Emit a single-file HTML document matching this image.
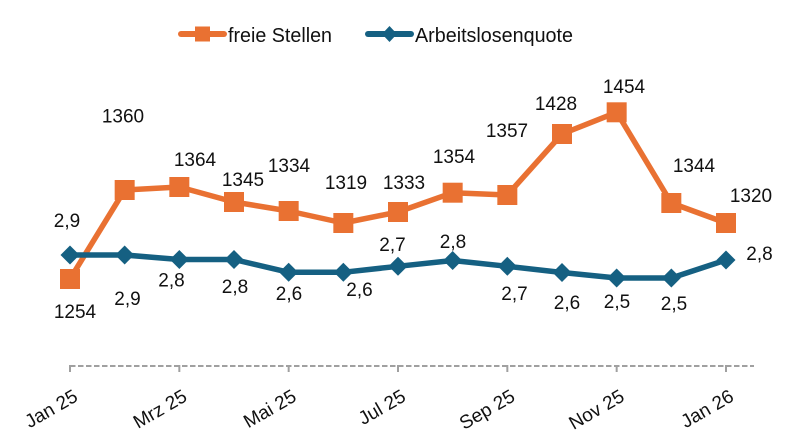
<!DOCTYPE html>
<html>
<head>
<meta charset="utf-8">
<style>
  html, body { margin:0; padding:0; background:#ffffff; }
  svg { display:block; }
  text { font-family: "Liberation Sans", Arial, sans-serif; fill:#111111; }
</style>
</head>
<body>
<svg width="800" height="446" viewBox="0 0 800 446" xmlns="http://www.w3.org/2000/svg">
  <rect width="800" height="446" fill="#ffffff"/>

  <!-- Legend -->
  <line x1="181" y1="34" x2="224" y2="34" stroke="#E97132" stroke-width="6" stroke-linecap="round"/>
  <rect x="195" y="26.5" width="15" height="15" fill="#E97132"/>
  <text x="228" y="42" font-size="20" textLength="104" lengthAdjust="spacingAndGlyphs">freie Stellen</text>

  <line x1="368" y1="34" x2="411" y2="34" stroke="#156082" stroke-width="6" stroke-linecap="round"/>
  <polygon points="389.5,26 397,34 389.5,42 382,34" fill="#156082"/>
  <text x="415" y="42" font-size="20" textLength="158" lengthAdjust="spacingAndGlyphs">Arbeitslosenquote</text>

  <!-- Category axis (dashed) -->
  <line x1="70" y1="366" x2="754" y2="366" stroke="#a0a0a0" stroke-width="2" stroke-dasharray="5.5,2.5"/>
  <g stroke="#a0a0a0" stroke-width="2">
    <line x1="70" y1="365" x2="70" y2="372"/>
    <line x1="179.33" y1="365" x2="179.33" y2="372"/>
    <line x1="288.67" y1="365" x2="288.67" y2="372"/>
    <line x1="398" y1="365" x2="398" y2="372"/>
    <line x1="507.33" y1="365" x2="507.33" y2="372"/>
    <line x1="616.67" y1="365" x2="616.67" y2="372"/>
    <line x1="726" y1="365" x2="726" y2="372"/>
  </g>

  <!-- Axis labels -->
  <g font-size="19" text-anchor="end">
    <text transform="translate(79,400) rotate(-30)">Jan 25</text>
    <text transform="translate(188.3,400) rotate(-30)">Mrz 25</text>
    <text transform="translate(297.7,400) rotate(-30)">Mai 25</text>
    <text transform="translate(407,400) rotate(-30)">Jul 25</text>
    <text transform="translate(516.3,400) rotate(-30)">Sep 25</text>
    <text transform="translate(625.7,400) rotate(-30)">Nov 25</text>
    <text transform="translate(735,400) rotate(-30)">Jan 26</text>
  </g>

  <!-- freie Stellen series -->
  <polyline fill="none" stroke="#E97132" stroke-width="5.5" stroke-linejoin="round"
    points="70,279 124.67,190 179.33,187 234,202 288.67,211 343.33,223 398,212 452.67,192.7 507.33,195 562,134 616.67,112.3 671.33,203 726,223"/>
  <g fill="#E97132">
    <rect x="60" y="269" width="20" height="20"/>
    <rect x="114.67" y="180" width="20" height="20"/>
    <rect x="169.33" y="177" width="20" height="20"/>
    <rect x="224" y="192" width="20" height="20"/>
    <rect x="278.67" y="201" width="20" height="20"/>
    <rect x="333.33" y="213" width="20" height="20"/>
    <rect x="388" y="202" width="20" height="20"/>
    <rect x="442.67" y="182.7" width="20" height="20"/>
    <rect x="497.33" y="185" width="20" height="20"/>
    <rect x="552" y="124" width="20" height="20"/>
    <rect x="606.67" y="102.3" width="20" height="20"/>
    <rect x="661.33" y="193" width="20" height="20"/>
    <rect x="716" y="213" width="20" height="20"/>
  </g>

  <!-- Arbeitslosenquote series -->
  <polyline fill="none" stroke="#156082" stroke-width="5.5" stroke-linejoin="round"
    points="70,255 124.67,255 179.33,259.5 234,259.5 288.67,272.3 343.33,272.3 398,266.3 452.67,260.5 507.33,266.3 562,272.5 616.67,278 671.33,278 726,260"/>
  <g fill="#156082">
    <polygon points="70,245.5 79.5,255 70,264.5 60.5,255"/>
    <polygon points="124.67,245.5 134.17,255 124.67,264.5 115.17,255"/>
    <polygon points="179.33,250 188.83,259.5 179.33,269 169.83,259.5"/>
    <polygon points="234,250 243.5,259.5 234,269 224.5,259.5"/>
    <polygon points="288.67,262.8 298.17,272.3 288.67,281.8 279.17,272.3"/>
    <polygon points="343.33,262.8 352.83,272.3 343.33,281.8 333.83,272.3"/>
    <polygon points="398,256.8 407.5,266.3 398,275.8 388.5,266.3"/>
    <polygon points="452.67,251 462.17,260.5 452.67,270 443.17,260.5"/>
    <polygon points="507.33,256.8 516.83,266.3 507.33,275.8 497.83,266.3"/>
    <polygon points="562,263 571.5,272.5 562,282 552.5,272.5"/>
    <polygon points="616.67,268.5 626.17,278 616.67,287.5 607.17,278"/>
    <polygon points="671.33,268.5 680.83,278 671.33,287.5 661.83,278"/>
    <polygon points="726,250.5 735.5,260 726,269.5 716.5,260"/>
  </g>

  <!-- Data labels: freie Stellen -->
  <g font-size="19" text-anchor="middle">
    <text x="75" y="318">1254</text>
    <text x="123" y="122.5">1360</text>
    <text x="195" y="166">1364</text>
    <text x="243" y="186">1345</text>
    <text x="289" y="172">1334</text>
    <text x="346" y="189">1319</text>
    <text x="404" y="189">1333</text>
    <text x="454" y="163">1354</text>
    <text x="507" y="137">1357</text>
    <text x="556" y="110">1428</text>
    <text x="624" y="93">1454</text>
    <text x="694" y="172">1344</text>
    <text x="751" y="202">1320</text>
  </g>

  <!-- Data labels: Arbeitslosenquote -->
  <g font-size="19" text-anchor="middle">
    <text x="67" y="227">2,9</text>
    <text x="127.5" y="305">2,9</text>
    <text x="171.5" y="286.5">2,8</text>
    <text x="235" y="293">2,8</text>
    <text x="289" y="300">2,6</text>
    <text x="359.5" y="296">2,6</text>
    <text x="392.5" y="251">2,7</text>
    <text x="453" y="248">2,8</text>
    <text x="514.5" y="300">2,7</text>
    <text x="567" y="309">2,6</text>
    <text x="617" y="308">2,5</text>
    <text x="674" y="310">2,5</text>
    <text x="759.5" y="260">2,8</text>
  </g>
</svg>
</body>
</html>
